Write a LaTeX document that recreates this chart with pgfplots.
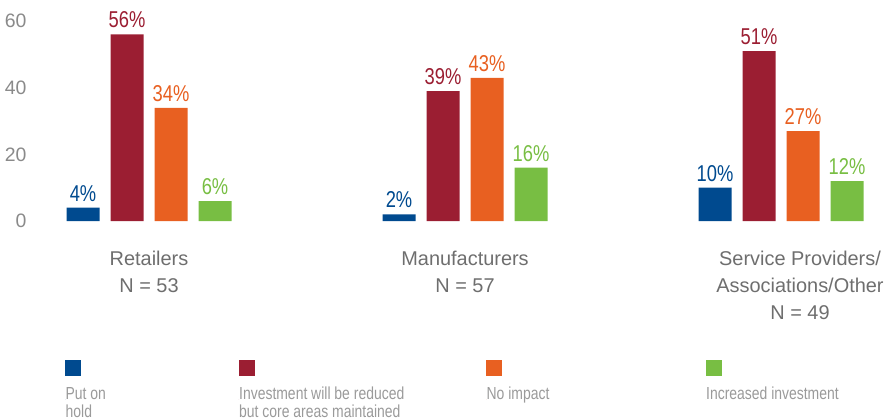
\documentclass[border=0pt]{standalone}
\usepackage{pgfplots}
\pgfplotsset{compat=1.18}
\usepackage{fontspec}
\setmainfont{Liberation Sans}
\newfontfamily\narrowfont{Liberation Sans}[FakeStretch=0.8]
\definecolor{bblue}{HTML}{004A8F}
\definecolor{bred}{HTML}{9B1E32}
\definecolor{borange}{HTML}{E86021}
\definecolor{bgreen}{HTML}{78BE43}
\definecolor{tickgray}{HTML}{8A8A8A}
\definecolor{labgray}{HTML}{6E6E6E}
\definecolor{leggray}{HTML}{9A9A9A}
\newcommand{\legfont}{\narrowfont\fontsize{17.5}{18.5}\selectfont}
\pgfplotsset{
  sq/.style={legend image code/.code={\fill[overlay,#1] (0bp,23bp) rectangle (16bp,39bp); \path (0bp,0bp) -- (0.5bp,0bp);}},
}
\begin{document}
\begin{tikzpicture}
\useasboundingbox (0,0) rectangle (887bp,420bp);
\begin{axis}[
  at={(30bp,199bp)}, anchor=south west,
  scale only axis, width=857bp, height=206.5bp,
  xmin=-0.3766, xmax=2.3354, ymin=0, ymax=62,
  enlargelimits=false, clip=false,
  ybar=11bp, bar width=33bp,
  axis line style={draw=none}, tick style={draw=none},
  major tick length=0pt,
  ytick={0,20,40,60},
  /pgf/number format/assume math mode=true,
  yticklabel style={font=\fontsize{19.5}{20}\selectfont, text=tickgray},
  xtick={0,1},
  xticklabels={{Retailers\\N = 53},{Manufacturers\\N = 57}},
  xticklabel style={font=\fontsize{20}{27}\selectfont, text=labgray, align=center, anchor=north, yshift=-27bp},
  extra x ticks={2},
  extra x tick labels={{Service Providers/\\Associations/Other\\N = 49}},
  extra x tick style={xticklabel style={xshift=19bp}},
  nodes near coords={\pgfmathprintnumber{\pgfplotspointmeta}\%},
  every node near coord/.append style={font=\narrowfont\fontsize{23}{24}\selectfont, anchor=base, yshift=6.5bp},
  legend columns=4,
  legend style={at={(0.0408,-0.799)}, anchor=north west, draw=none, fill=none,
    inner sep=0pt, row sep=0pt, column sep=0pt,
    nodes={inner sep=0pt, anchor=base west, text=leggray, font=\legfont}},
]
\addplot[fill=bblue, draw=none, every node near coord/.append style={text=bblue}, sq=bblue]
  coordinates {(0,4) (1,2) (2,10)};
\addlegendentry{\makebox[173bp][l]{\begin{tabular}[t]{@{}l@{}}Put on\\hold\end{tabular}}}
\addplot[fill=bred, draw=none, every node near coord/.append style={text=bred}, sq=bred]
  coordinates {(0,56) (1,39) (2,51)};
\addlegendentry{\makebox[247bp][l]{\begin{tabular}[t]{@{}l@{}}Investment will be reduced\\but core areas maintained\end{tabular}}}
\addplot[fill=borange, draw=none, every node near coord/.append style={text=borange}, sq=borange]
  coordinates {(0,34) (1,43) (2,27)};
\addlegendentry{\makebox[219bp][l]{\begin{tabular}[t]{@{}l@{}}No impact\\ \end{tabular}}}
\addplot[fill=bgreen, draw=none, every node near coord/.append style={text=bgreen}, sq=bgreen]
  coordinates {(0,6) (1,16) (2,12)};
\addlegendentry{\begin{tabular}[t]{@{}l@{}}Increased investment\\ \end{tabular}}
\end{axis}
\end{tikzpicture}
\end{document}
